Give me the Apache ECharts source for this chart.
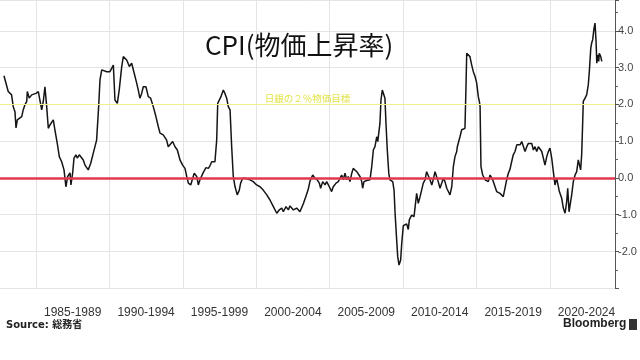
<!DOCTYPE html>
<html><head><meta charset="utf-8">
<script src="https://cdn.jsdelivr.net/npm/echarts@6/dist/echarts.min.js"></script>
<style>html,body{margin:0;padding:0;background:#fff}#c{width:640px;height:360px}</style>
</head><body><div id="c"></div>
<script>
const years = [
1982.82,1983.11,1983.34,1983.45,1983.57,1983.64,1983.73,1983.86,1984.03,1984.13,
1984.25,1984.37,1984.41,1984.54,1984.71,1984.82,1985.00,1985.16,1985.27,1985.39,
1985.50,1985.61,1985.73,1985.84,1985.95,1986.07,1986.18,1986.29,1986.45,1986.59,
1986.75,1986.91,1987.04,1987.16,1987.32,1987.38,1987.50,1987.59,1987.72,1987.81,
1987.95,1988.07,1988.22,1988.34,1988.45,1988.56,1988.73,1988.90,1989.13,1989.27,
1989.36,1989.48,1989.58,1989.82,1990.04,1990.27,1990.38,1990.54,1990.67,1990.84,
1990.95,1991.18,1991.36,1991.52,1991.63,1991.86,1991.97,1992.08,1992.20,1992.31,
1992.49,1992.65,1992.81,1992.99,1993.17,1993.33,1993.45,1993.67,1993.90,1994.01,
1994.13,1994.31,1994.47,1994.63,1994.81,1994.99,1995.15,1995.27,1995.38,1995.54,
1995.67,1995.78,1995.95,1996.06,1996.17,1996.40,1996.58,1996.74,1996.85,1996.97,
1997.08,1997.19,1997.31,1997.38,1997.49,1997.60,1997.76,1997.87,1997.99,1998.10,
1998.22,1998.33,1998.44,1998.56,1998.71,1998.85,1998.94,1999.08,1999.24,1999.35,
1999.58,1999.80,2000.03,2000.26,2000.48,2000.72,2000.94,2001.17,2001.40,2001.57,
2001.74,2001.85,2002.03,2002.19,2002.30,2002.53,2002.76,2002.98,2003.21,2003.39,
2003.55,2003.67,2003.85,2004.01,2004.16,2004.30,2004.39,2004.53,2004.69,2004.80,
2004.98,2005.14,2005.25,2005.44,2005.59,2005.71,2005.82,2005.93,2006.05,2006.16,
2006.27,2006.39,2006.51,2006.61,2006.73,2006.85,2006.96,2007.07,2007.19,2007.25,
2007.34,2007.53,2007.75,2007.87,2007.98,2008.09,2008.21,2008.28,2008.37,2008.43,
2008.50,2008.59,2008.71,2008.77,2008.84,2008.93,2009.03,2009.11,2009.30,2009.39,
2009.46,2009.57,2009.64,2009.73,2009.84,2009.91,2010.02,2010.14,2010.25,2010.36,
2010.43,2010.59,2010.75,2010.85,2010.93,2011.04,2011.16,2011.27,2011.38,2011.50,
2011.61,2011.72,2011.84,2011.96,2012.06,2012.18,2012.30,2012.40,2012.52,2012.64,
2012.75,2012.86,2012.98,2013.09,2013.20,2013.32,2013.43,2013.54,2013.66,2013.70,
2013.77,2013.88,2014.00,2014.11,2014.22,2014.29,2014.34,2014.45,2014.56,2014.68,
2014.79,2014.91,2015.02,2015.13,2015.20,2015.25,2015.31,2015.43,2015.59,2015.70,
2015.81,2015.93,2016.04,2016.11,2016.27,2016.38,2016.61,2016.83,2016.95,2017.06,
2017.17,2017.29,2017.40,2017.51,2017.63,2017.75,2017.85,2017.97,2018.09,2018.20,
2018.31,2018.43,2018.54,2018.65,2018.77,2018.88,2018.99,2019.11,2019.22,2019.33,
2019.45,2019.56,2019.67,2019.79,2019.90,2020.01,2020.13,2020.24,2020.35,2020.47,
2020.58,2020.65,2020.74,2020.81,2020.92,2021.04,2021.15,2021.22,2021.31,2021.42,
2021.49,2021.60,2021.72,2021.83,2021.94,2022.06,2022.10,2022.17,2022.24,2022.28,
2022.40,2022.51,2022.62,2022.69,2022.79,2022.85,2022.92,2023.01,2023.08,2023.15,
2023.20,2023.26,2023.33,2023.37,2023.47,2023.54
];
const cpi = [
2.78,2.35,2.26,1.94,1.80,1.36,1.58,1.63,1.67,1.85,
1.99,2.08,2.35,2.17,2.26,2.21,2.30,2.35,2.39,1.85,
2.08,2.48,1.94,1.35,1.44,1.40,1.58,1.31,0.94,0.58,
0.44,0.22,-0.24,0.04,0.14,-0.19,0.14,0.54,0.63,0.54,
0.63,0.67,0.49,0.35,0.31,0.22,0.40,0.67,1.03,1.94,
2.67,2.94,2.98,2.89,2.89,3.07,2.12,2.03,2.39,3.03,
3.30,3.21,3.03,3.12,3.07,2.58,2.39,2.17,2.30,2.48,
2.48,2.21,2.17,1.94,1.67,1.40,1.22,1.17,1.03,0.85,
0.90,0.99,0.85,0.76,0.49,0.35,0.26,0.04,-0.14,-0.19,
-0.24,0.13,0.04,-0.19,-0.05,0.15,0.28,0.26,0.33,0.44,
0.49,0.44,1.03,2.03,2.08,2.21,2.39,2.30,2.17,1.94,
1.85,0.85,0.04,-0.24,-0.46,-0.33,-0.14,-0.01,-0.01,-0.04,
-0.05,-0.10,-0.19,-0.24,-0.33,-0.46,-0.60,-0.78,-0.96,-0.87,
-0.82,-0.92,-0.78,-0.87,-0.76,-0.87,-0.82,-0.92,-0.70,-0.50,
-0.30,-0.08,0.08,-0.01,-0.05,-0.14,-0.28,-0.10,-0.19,-0.10,
-0.24,-0.37,-0.24,-0.14,-0.10,-0.05,0.08,-0.05,0.13,-0.05,
0.04,-0.10,0.13,0.26,0.31,0.17,0.17,0.04,-0.10,-0.28,
-0.10,-0.07,-0.05,0.31,0.76,0.85,1.12,0.99,0.94,1.49,
2.12,2.39,2.35,2.17,1.49,0.76,0.13,-0.05,-0.10,-0.33,
-0.96,-1.69,-2.14,-2.37,-2.23,-1.80,-1.30,-1.28,-1.25,-1.40,
-1.14,-1.01,-1.05,-0.70,-0.42,-0.69,-0.51,-0.33,-0.14,-0.05,
0.17,0.13,-0.05,-0.19,-0.05,0.17,0.13,-0.10,-0.28,-0.14,
-0.01,-0.10,-0.28,-0.33,-0.46,-0.24,0.31,0.58,0.72,0.85,
0.85,1.12,1.31,1.31,1.35,2.48,3.39,3.35,3.30,3.07,
2.89,2.76,2.58,2.21,2.08,1.94,0.31,0.08,-0.05,-0.05,
-0.10,0.08,0.04,-0.05,-0.24,-0.37,-0.42,-0.51,-0.46,-0.05,
0.12,0.24,0.44,0.63,0.72,0.90,0.94,0.90,0.99,0.94,
0.72,0.85,0.94,0.99,0.94,0.76,0.85,0.72,0.85,0.90,
0.72,0.54,0.35,0.58,0.72,0.81,0.54,0.17,-0.19,-0.01,
-0.05,-0.37,-0.33,-0.55,-0.82,-0.96,-0.64,-0.28,-0.92,-0.64,
-0.46,-0.10,0.08,0.17,0.49,0.44,0.22,0.63,1.53,2.08,
2.17,2.26,2.53,2.89,3.53,3.67,3.76,4.07,4.21,3.71,
3.12,3.35,3.17,3.39,3.30,3.17
];
const periodStarts = [1985,1990,1995,2000,2005,2010,2015,2020];
const yLabelValues = [-2,-1,0,1,2,3,4];
const xMin = 1982.55, xMax = 2024.44;
const yMin = -3, yMax = 4.84;
const titleText = 'CPI(物価上昇率)';
const targetValue = 2;
const targetLabel = '日銀の２％物価目標';
const zeroValue = 0;
const sourceText = 'Source: 総務省';
const brandText = 'Bloomberg';

const seriesData = years.map((y, i) => [y, cpi[i]]);
const chart = echarts.init(document.getElementById('c'), null, {renderer: 'canvas'});
chart.setOption({
  animation: false,
  backgroundColor: '#ffffff',
  title: {
    text: titleText, left: 200, top: 27,
    textStyle: {fontFamily: 'Noto Sans CJK JP', fontSize: 26, fontWeight: 'normal', color: '#111'}
  },
  grid: {left: 0, right: 25, top: 0, bottom: 71.75, containLabel: false},
  xAxis: {
    type: 'value', min: xMin, max: xMax,
    axisLine: {show: false},
    axisTick: {show: false, customValues: periodStarts},
    splitLine: {show: true, lineStyle: {color: '#e4e4e4', width: 1}},
    axisLabel: {
      customValues: periodStarts,
      margin: 18, fontFamily: 'Liberation Sans', fontSize: 12, color: '#333',
      align: 'center', padding: [0, 0, 0, 73.4],
      formatter: v => periodStarts.includes(v) ? (v + '-' + (v + 4)) : ''
    }
  },
  yAxis: {
    type: 'value', position: 'right', min: yMin, max: yMax, interval: 1,
    axisLine: {show: true, lineStyle: {color: '#555', width: 1}},
    axisTick: {show: true, inside: false, length: 4, lineStyle: {color: '#555'}},
    minorTick: {show: true, splitNumber: 2, length: 3, lineStyle: {color: '#666'}},
    splitLine: {show: true, lineStyle: {color: '#e4e4e4', width: 1}},
    axisLabel: {
      margin: 3, fontFamily: 'Liberation Sans', fontSize: 11, color: '#444',
      formatter: v => yLabelValues.includes(v) ? v.toFixed(1) : ''
    }
  },
  series: [{
    type: 'line', data: seriesData, showSymbol: false, symbol: 'none',
    lineStyle: {color: '#151515', width: 1.5}, z: 3,
    markLine: {
      silent: true, symbol: 'none', animation: false,
      data: [
        {yAxis: zeroValue, lineStyle: {color: '#e2384f', width: 2.5, type: 'solid'}, label: {show: false}},
        {yAxis: targetValue, lineStyle: {color: '#f0f08c', width: 1, type: 'solid'},
         label: {show: true, position: 'insideMiddleTop', formatter: targetLabel, color: '#e2e24a',
                 fontSize: 9.5, fontFamily: 'Noto Sans CJK JP', distance: 1}}
      ]
    }
  }],
  graphic: [
    {type: 'text', left: 6, top: 320, style: {text: sourceText, font: 'bold 10px "DejaVu Sans", "Noto Sans CJK JP"', fill: '#222'}},
    {type: 'text', left: 563, top: 318, style: {text: brandText, font: 'bold 12px "Liberation Sans"', fill: '#222'}},
    {type: 'rect', left: 629, top: 319, shape: {width: 8, height: 11}, style: {fill: '#333'}}
  ]
});
</script>
</body></html>
